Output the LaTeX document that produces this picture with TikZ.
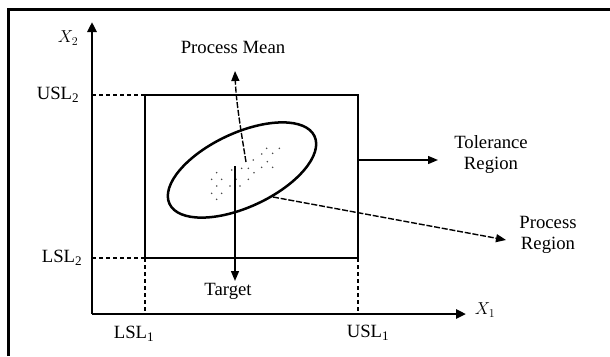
\documentclass[tikz,border=0pt]{standalone}
\usepackage{fontspec}
\setmainfont{Liberation Serif}
\usetikzlibrary{arrows.meta}
\begin{document}
\begin{tikzpicture}[x=1pt,y=-1pt,
  lbl/.style={font=\fontsize{18.7}{21}\selectfont, inner sep=0pt, align=center},
  axis/.style={line width=2.6pt, -{Triangle[length=10pt,width=9pt]}},
  arr/.style={line width=1.4pt, -{Triangle[length=10pt,width=8pt]}},
  dsh/.style={line width=1.4pt, dash pattern=on 6pt off 1.8pt},
  guide/.style={line width=1.3pt, dash pattern=on 4pt off 3pt},
  box/.style={line width=1.8pt},
  dot/.style={fill=black!70}]
\useasboundingbox (0,0) rectangle (610,356);
% frame (top and left only)
\draw[line width=3pt] (8.5,356) -- (8.5,9.5) -- (610,9.5);
% axes
\coordinate (O) at (92,314);
\coordinate (Ytip) at (92,22);
\coordinate (Xtip) at (466,314);
\draw[axis] (O) -- (Ytip);
\draw[axis] (O) -- (Xtip);
% tolerance rectangle
\coordinate (LL) at (145,258);
\coordinate (UR) at (358,95);
\draw[box] (LL) rectangle (UR);
% dashed guides
\draw[guide] (92,95) -- (145,95);
\draw[guide] (92,258) -- (145,258);
\draw[guide] (145,258) -- (145,314);
\draw[guide] (358,258) -- (358,314);
% ellipse
\coordinate (C) at (242,170);
\draw[line width=2.5pt, rotate around={25:(C)}] (C) ellipse [x radius=80, y radius=37];
% dots
\foreach \p in {(350,205),(368,220),(388,205),(335,222),(352,245),(368,262),(310,240),(295,265),(312,278),(275,265),(245,270),(200,278),(185,298),(215,298),(200,318),(240,318),(185,340),(215,340),(270,318),(258,298),(295,298),(200,358),(335,262)}
  {\fill[dot] [shift={(150,80)}] [x=0.3333pt,y=-0.3333pt] \p circle[radius=0.9pt];}
% labels
\node[lbl] (x2) at (68,38) {$X_2$};
\node[lbl] (x1) at (485,310) {$X_1$};
\node[lbl] (usl2) at (58,95) {USL\textsubscript{2}};
\node[lbl] (lsl2) at (62,258) {LSL\textsubscript{2}};
\node[lbl] (lsl1) at (134,334) {LSL\textsubscript{1}};
\node[lbl] (usl1) at (368,333) {USL\textsubscript{1}};
\node[lbl] (pm) at (233,47) {Process Mean};
\node[lbl] (tr) at (491,155) {Tolerance\\Region};
\node[lbl] (prg) at (548,235) {Process\\Region};
\node[lbl] (tg) at (228,291) {Target};
% arrows
\coordinate (tgs) at (235,166);
\coordinate (tge) at (235,281);
\draw[arr] (tgs) -- (tge);
\coordinate (pms) at (246,162);
\coordinate (pme) at (235,71);
\draw[arr, dsh] (pms) .. controls (240,125) and (236,100) .. (pme);
\coordinate (trs) at (358,160);
\coordinate (tre) at (438,160);
\draw[arr] (trs) -- (tre);
\coordinate (prs) at (273,197);
\coordinate (pre) at (506,240);
\draw[arr, dsh] (prs) -- (pre);
\end{tikzpicture}
\end{document}
